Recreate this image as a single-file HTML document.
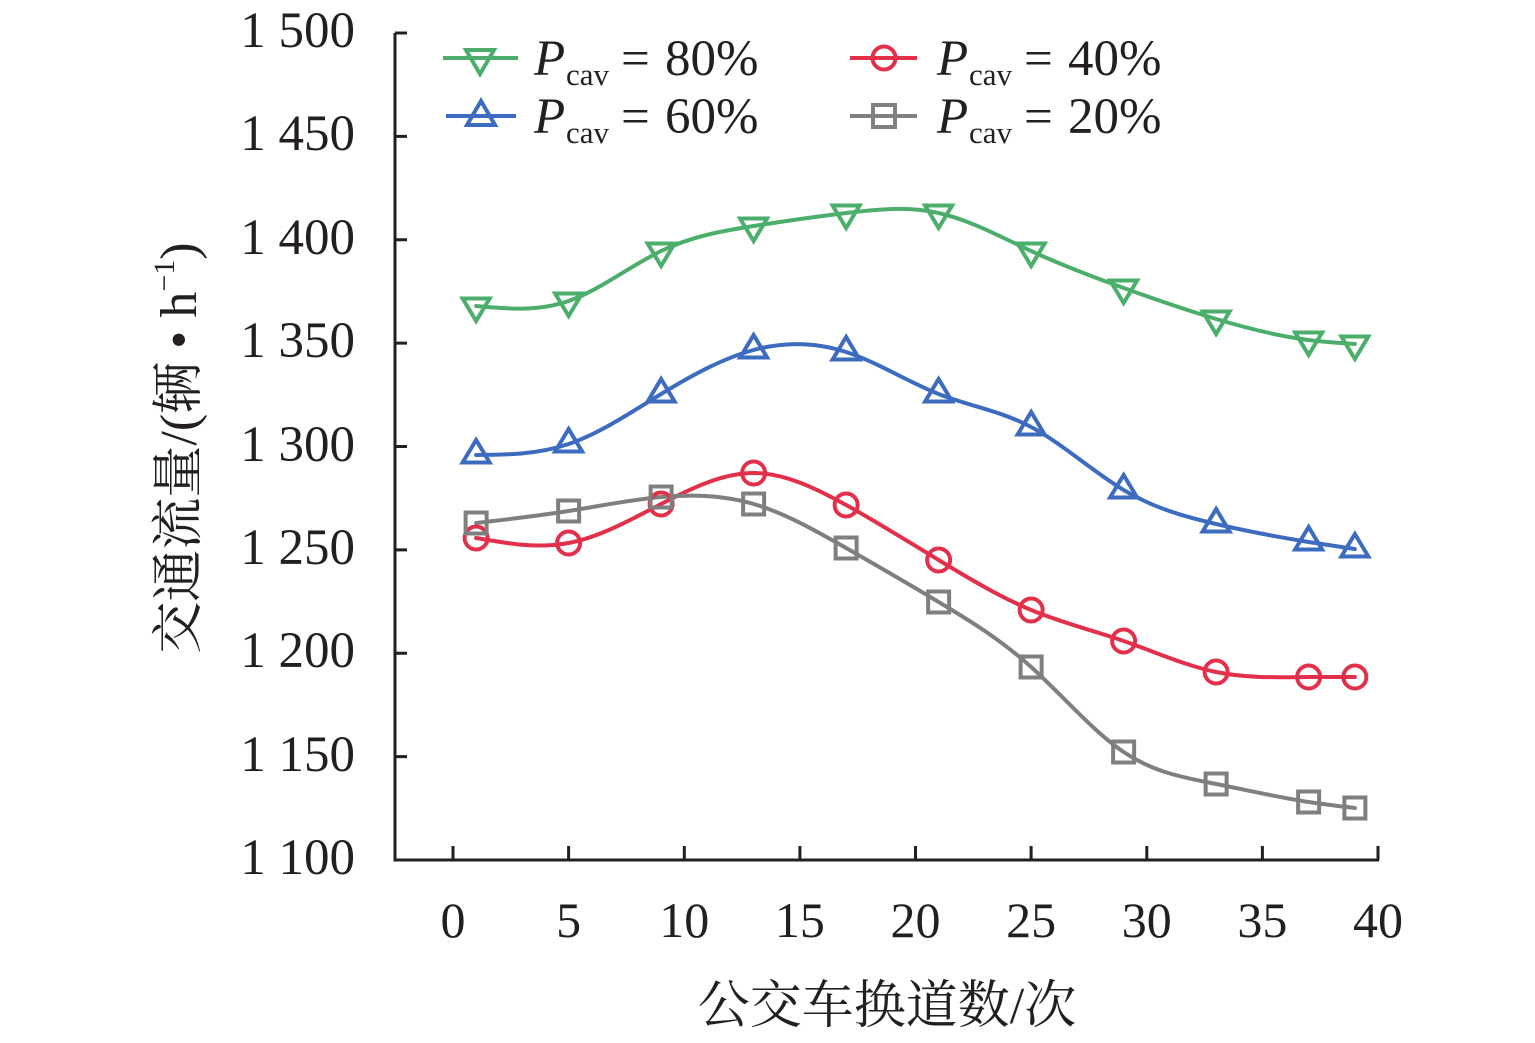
<!DOCTYPE html>
<html>
<head>
<meta charset="utf-8">
<style>
  html,body{margin:0;padding:0;background:#fff;}
  svg{display:block;}
  text{font-family:"Liberation Serif","Noto Serif CJK SC",serif;fill:#231f20;}
</style>
</head>
<body>
<svg id="chart" width="1535" height="1043" viewBox="0 0 1535 1043" xmlns="http://www.w3.org/2000/svg">
  <rect x="0" y="0" width="1535" height="1043" fill="#fff"/>

  <!-- axes -->
  <g stroke="#231f20" stroke-width="3" fill="none">
    <path d="M395,33 V860 H1379"/>
    <path d="M395,33 H407 M395,136.4 H407 M395,239.8 H407 M395,343.1 H407 M395,446.5 H407 M395,549.9 H407 M395,653.3 H407 M395,756.6 H407"/>
    <path d="M453,860 V846 M568.6,860 V846 M684.3,860 V846 M799.9,860 V846 M915.5,860 V846 M1031.1,860 V846 M1146.8,860 V846 M1262.4,860 V846 M1378,860 V846"/>
  </g>

  <!-- y tick labels -->
  <g font-size="51" text-anchor="end">
    <text x="355" y="47">1 500</text>
    <text x="355" y="150">1 450</text>
    <text x="355" y="254">1 400</text>
    <text x="355" y="357">1 350</text>
    <text x="355" y="461">1 300</text>
    <text x="355" y="564">1 250</text>
    <text x="355" y="667">1 200</text>
    <text x="355" y="771">1 150</text>
    <text x="355" y="874">1 100</text>
  </g>

  <!-- x tick labels -->
  <g font-size="50" text-anchor="middle">
    <text x="453" y="937">0</text>
    <text x="568.6" y="937">5</text>
    <text x="684.3" y="937">10</text>
    <text x="799.9" y="937">15</text>
    <text x="915.5" y="937">20</text>
    <text x="1031.1" y="937">25</text>
    <text x="1146.8" y="937">30</text>
    <text x="1262.4" y="937">35</text>
    <text x="1378" y="937">40</text>
  </g>

  <!-- axis titles -->
  <text x="887" y="1023" font-size="52" text-anchor="middle">公交车换道数/次</text>
  <text transform="translate(196,448) rotate(-90)" font-size="52" text-anchor="middle">交通流量/(辆 • h<tspan font-size="30" dy="-22">−1</tspan><tspan dy="22">)</tspan></text>

  <!-- series -->
  <g id="series" fill="none" stroke-width="4" stroke-linejoin="round" stroke-linecap="round"></g>

  <!-- legend -->
  <g stroke-width="4" fill="none">
    <line x1="443" y1="58" x2="518" y2="58" stroke="#4BAE6B"/>
    <path d="M466,50 H494 L480,74 Z" stroke="#4BAE6B" stroke-linejoin="miter"/>
    <line x1="446" y1="116" x2="516" y2="116" stroke="#3D6BBF"/>
    <path d="M467,125 H495 L481,101 Z" stroke="#3D6BBF" stroke-linejoin="miter"/>
    <line x1="850" y1="58" x2="917" y2="58" stroke="#E3304A"/>
    <circle cx="884" cy="58" r="11.5" stroke="#E3304A"/>
    <line x1="850" y1="116" x2="917" y2="116" stroke="#7F7F7F"/>
    <rect x="873" y="105" width="22" height="22" stroke="#7F7F7F"/>
  </g>
  <g font-size="51">
    <text x="534" y="75" font-style="italic">P</text>
    <text x="566" y="85" font-size="31">cav</text>
    <text x="621" y="75">=</text>
    <text x="665" y="75">80%</text>

    <text x="534" y="133" font-style="italic">P</text>
    <text x="566" y="143" font-size="31">cav</text>
    <text x="621" y="133">=</text>
    <text x="665" y="133">60%</text>

    <text x="937" y="75" font-style="italic">P</text>
    <text x="969" y="85" font-size="31">cav</text>
    <text x="1024" y="75">=</text>
    <text x="1068" y="75">40%</text>

    <text x="937" y="133" font-style="italic">P</text>
    <text x="969" y="143" font-size="31">cav</text>
    <text x="1024" y="133">=</text>
    <text x="1068" y="133">20%</text>
  </g>
</svg>

<script>
(function(){
  var NS = "http://www.w3.org/2000/svg";
  var g = document.getElementById("series");
  var xv = [1,5,9,13,17,21,25,29,33,37,39];
  var xs = xv.map(function(v){return 453 + v*115.625/5;});
  var series = [
    {c:"#4BAE6B", m:"down", y:[306,301,251,226,213,213,251,288,319,340,344]},
    {c:"#3D6BBF", m:"up",   y:[455,444,394,350,352,394,427,490,524,542,549]},
    {c:"#E3304A", m:"circle", y:[538,543,504,473,505,560,610,641,672,677,677]},
    {c:"#7F7F7F", m:"square", y:[523,511,497,504,548,602,667,752,784,802,808]}
  ];
  function spline(x, y){
    var n = x.length, h = [], i;
    for(i=0;i<n-1;i++) h.push(x[i+1]-x[i]);
    var a=[],b=[],c=[],d=[];
    for(i=1;i<n-1;i++){
      a.push(h[i-1]); b.push(2*(h[i-1]+h[i])); c.push(h[i]);
      d.push(6*((y[i+1]-y[i])/h[i] - (y[i]-y[i-1])/h[i-1]));
    }
    var m = n-2;
    for(i=1;i<m;i++){
      var w = a[i]/b[i-1];
      b[i] -= w*c[i-1]; d[i] -= w*d[i-1];
    }
    var M = new Array(n).fill(0);
    var s = new Array(m);
    s[m-1] = d[m-1]/b[m-1];
    for(i=m-2;i>=0;i--) s[i] = (d[i]-c[i]*s[i+1])/b[i];
    for(i=0;i<m;i++) M[i+1]=s[i];
    var p = "M"+x[0]+","+y[0];
    for(i=0;i<n-1;i++){
      var hh=h[i], sl=(y[i+1]-y[i])/hh;
      var d0 = sl - hh*(2*M[i]+M[i+1])/6;
      var d1 = sl + hh*(M[i]+2*M[i+1])/6;
      p += " C"+(x[i]+hh/3).toFixed(2)+","+(y[i]+d0*hh/3).toFixed(2)+" "+
           (x[i+1]-hh/3).toFixed(2)+","+(y[i+1]-d1*hh/3).toFixed(2)+" "+
           x[i+1].toFixed(2)+","+y[i+1];
    }
    return p;
  }
  function el(tag, attrs){
    var e = document.createElementNS(NS, tag);
    for(var k in attrs) e.setAttribute(k, attrs[k]);
    g.appendChild(e); return e;
  }
  series.forEach(function(S){
    el("path",{d:spline(xs,S.y), stroke:S.c});
  });
  series.forEach(function(S){
    for(var i=0;i<xs.length;i++){
      var cx=xs[i], cy=S.y[i];
      if(S.m==="down"){
        el("path",{d:"M"+(cx-13.5)+","+(cy-7.5)+" H"+(cx+13.5)+" L"+cx+","+(cy+15)+" Z", stroke:S.c, "stroke-linejoin":"miter"});
      } else if(S.m==="up"){
        el("path",{d:"M"+(cx-13.5)+","+(cy+7.5)+" H"+(cx+13.5)+" L"+cx+","+(cy-15)+" Z", stroke:S.c, "stroke-linejoin":"miter"});
      } else if(S.m==="circle"){
        el("circle",{cx:cx, cy:cy, r:11.5, stroke:S.c});
      } else {
        el("rect",{x:cx-10.5, y:cy-10.5, width:21, height:21, stroke:S.c, "stroke-linejoin":"miter"});
      }
    }
  });
})();
</script>
</body>
</html>
